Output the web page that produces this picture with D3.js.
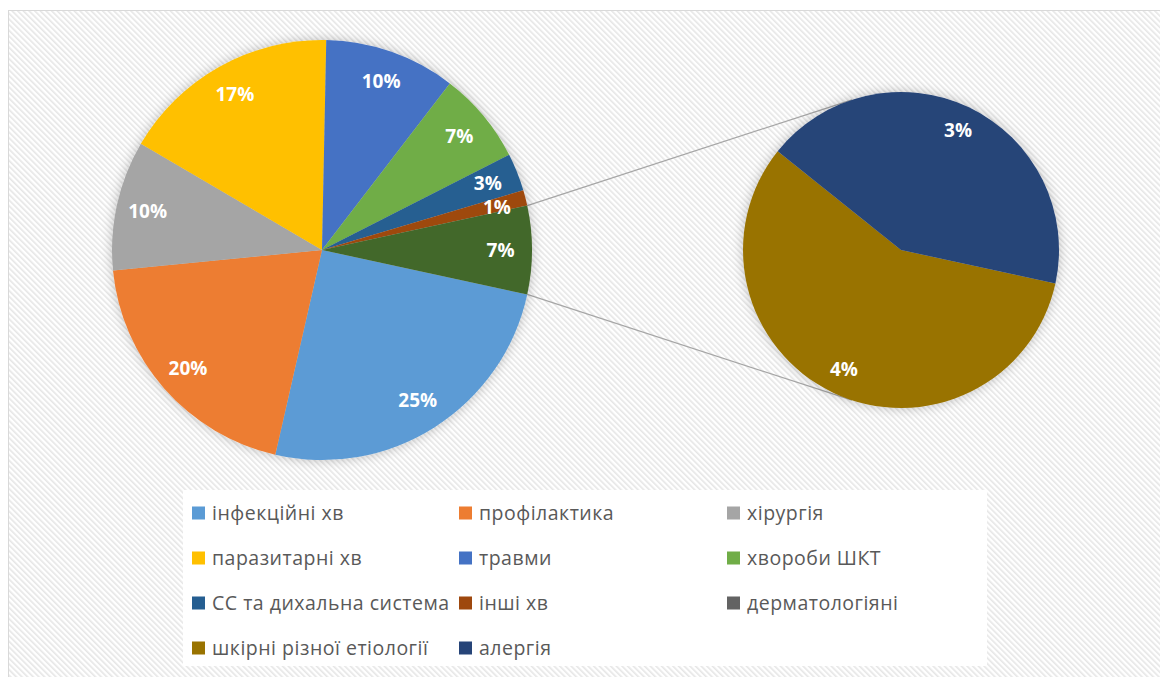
<!DOCTYPE html>
<html>
<head>
<meta charset="utf-8">
<script src="https://cdn.jsdelivr.net/npm/d3@7"></script>
<style>
  html, body { margin: 0; padding: 0; background: #fff; }
  svg { display: block; }
</style>
</head>
<body>
<svg id="chart" width="1160" height="677"></svg>
<script>
// main pie categories (clockwise from the "other" slice)
const mainNames = ["інфекційні хв", "профілактика", "хірургія", "паразитарні хв", "травми",
  "хвороби ШКТ", "СС та дихальна система", "інші хв"];
const mainValues = [25.2, 19.9, 10.0, 16.9, 10.1, 7.1, 2.9, 1.2];
const mainColors = ["#5b9bd5", "#ed7d31", "#a5a5a5", "#ffc000", "#4472c4",
  "#70ad47", "#255e91", "#9e480e"];

// split into the secondary pie
const otherName = "дерматологіяні";
const otherSliceColor = "#43682b";
const otherLegendColor = "#636363";
const subNames = ["шкірні різної етіології", "алергія"];
const subValues = [3.9, 2.9];
const subColors = ["#997300", "#264478"];

// legend order (as in the reference, 3 columns)
const legendNames = ["інфекційні хв", "профілактика", "хірургія", "паразитарні хв", "травми",
  "хвороби ШКТ", "СС та дихальна система", "інші хв", "дерматологіяні",
  "шкірні різної етіології", "алергія"];

const svg = d3.select("#chart");
const W = 1160, H = 677;

const defs = svg.append("defs");
let pat = defs.append("pattern")
  .attr("id", "stripes")
  .attr("patternUnits", "userSpaceOnUse")
  .attr("width", 4).attr("height", 4)
  .attr("patternTransform", "rotate(-45)");
pat.append("rect").attr("width", 4).attr("height", 4).attr("fill", "#ffffff");
pat.append("rect").attr("width", 1.6).attr("height", 4).attr("fill", "#e6e6e6");

let shadow = defs.append("filter").attr("id", "glow")
  .attr("x", "-20%").attr("y", "-20%").attr("width", "140%").attr("height", "140%");
shadow.append("feGaussianBlur").attr("in", "SourceAlpha").attr("stdDeviation", 6).attr("result", "b");
shadow.append("feComponentTransfer").attr("in", "b").attr("result", "s")
  .append("feFuncA").attr("type", "linear").attr("slope", 0.25);
let merge = shadow.append("feMerge");
merge.append("feMergeNode").attr("in", "s");
merge.append("feMergeNode").attr("in", "SourceGraphic");

// background
svg.append("rect").attr("x", 8.5).attr("y", 10.5).attr("width", W).attr("height", H)
  .attr("fill", "url(#stripes)").attr("stroke", "#d9d9d9").attr("stroke-width", 1);

const total = d3.sum(mainValues) + d3.sum(subValues);
const otherValue = d3.sum(subValues);
const fmt = v => Math.round(v / total * 100) + "%";

// main pie
const mc = { x: 322, y: 250, r: 210 };
const mainData = mainValues.map((v, i) => ({ name: mainNames[i], value: v, color: mainColors[i] }));
mainData.push({ name: otherName, value: otherValue, color: otherSliceColor });

const startMain = Math.PI / 2 + (otherValue / total) * Math.PI;
const mainPie = d3.pie().sort(null).value(d => d.value)
  .startAngle(startMain).endAngle(startMain + 2 * Math.PI);
const mainArcs = mainPie(mainData);
const mainArc = d3.arc().innerRadius(0).outerRadius(mc.r);
const mainLabelArc = d3.arc().innerRadius(mc.r * 0.85).outerRadius(mc.r * 0.85);

// secondary pie
const sc = { x: 901, y: 250, r: 158 };
const subData = subValues.map((v, i) => ({ name: subNames[i], value: v, color: subColors[i] }));
const subPie = d3.pie().sort(null).value(d => d.value)
  .startAngle(startMain).endAngle(startMain + 2 * Math.PI);
const subArcs = subPie(subData);
const subArc = d3.arc().innerRadius(0).outerRadius(sc.r);
const subLabelArc = d3.arc().innerRadius(sc.r * 0.84).outerRadius(sc.r * 0.84);

// connector lines: from the edges of the "other" slice, tangent to the secondary pie
const otherArc = mainArcs[mainArcs.length - 1];
function edgePoint(a) {
  return [mc.x + mc.r * Math.sin(a), mc.y - mc.r * Math.cos(a)];
}
function tangentPoint(p, upper) {
  let dx = p[0] - sc.x, dy = p[1] - sc.y;
  let d = Math.sqrt(dx * dx + dy * dy);
  let base = Math.atan2(dy, dx);
  let off = Math.acos(sc.r / d);
  let a = upper ? base + off : base - off;
  return [sc.x + sc.r * Math.cos(a), sc.y + sc.r * Math.sin(a)];
}
let pTop = edgePoint(otherArc.startAngle), pBot = edgePoint(otherArc.endAngle);
let tTop = tangentPoint(pTop, true), tBot = tangentPoint(pBot, false);
svg.append("g").selectAll("line")
  .data([[pTop, tTop], [pBot, tBot]])
  .enter().append("line")
  .attr("x1", d => d[0][0]).attr("y1", d => d[0][1])
  .attr("x2", d => d[1][0]).attr("y2", d => d[1][1])
  .attr("stroke", "#a6a6a6").attr("stroke-width", 1.3);

// label positions, small labels on the right pushed apart a bit
let mainLabelPos = mainArcs.map(d => mainLabelArc.centroid(d));
for (let i = 1; i < mainLabelPos.length; i++) {
  let a = mainLabelPos[i - 1], b = mainLabelPos[i];
  if (Math.abs(a[0] - b[0]) < 40 && b[1] > a[1] && b[1] - a[1] < 24) {
    b[1] = a[1] + 24;
    b[0] += 2;
  }
}

let gMain = svg.append("g").attr("transform", `translate(${mc.x},${mc.y})`);
gMain.append("g").attr("filter", "url(#glow)")
  .selectAll("path").data(mainArcs).enter().append("path")
  .attr("d", mainArc).attr("fill", d => d.data.color);
gMain.selectAll("text").data(mainArcs).enter().append("text")
  .attr("transform", (d, i) => `translate(${mainLabelPos[i]})`)
  .attr("text-anchor", "middle").attr("dy", "0.35em")
  .attr("fill", "#fff").attr("font-family", "'Open Sans', sans-serif")
  .attr("font-weight", "bold").attr("font-size", 19)
  .text(d => fmt(d.data.value));

let gSub = svg.append("g").attr("transform", `translate(${sc.x},${sc.y})`);
gSub.append("g").attr("filter", "url(#glow)")
  .selectAll("path").data(subArcs).enter().append("path")
  .attr("d", subArc).attr("fill", d => d.data.color);
gSub.selectAll("text").data(subArcs).enter().append("text")
  .attr("transform", d => `translate(${subLabelArc.centroid(d)})`)
  .attr("text-anchor", "middle").attr("dy", "0.35em")
  .attr("fill", "#fff").attr("font-family", "'Open Sans', sans-serif")
  .attr("font-weight", "bold").attr("font-size", 19)
  .text(d => fmt(d.data.value));

// legend
const colorOf = {};
mainNames.forEach((n, i) => colorOf[n] = mainColors[i]);
subNames.forEach((n, i) => colorOf[n] = subColors[i]);
colorOf[otherName] = otherLegendColor;

svg.append("rect").attr("x", 183).attr("y", 490).attr("width", 804).attr("height", 176)
  .attr("fill", "#fff");

const colX = [192, 459, 727];
const rowY = [513, 558, 603, 648];
let leg = svg.append("g").selectAll("g").data(legendNames).enter().append("g")
  .attr("transform", (d, i) => `translate(${colX[i % 3]},${rowY[Math.floor(i / 3)]})`);
leg.append("rect").attr("x", 0).attr("y", -6.5).attr("width", 13).attr("height", 13)
  .attr("fill", d => colorOf[d]);
leg.append("text").attr("x", 20).attr("dy", "0.35em")
  .attr("fill", "#595959").attr("font-family", "'Open Sans', sans-serif")
  .attr("font-size", 19.5).attr("letter-spacing", 0.5).text(d => d);
</script>
</body>
</html>
